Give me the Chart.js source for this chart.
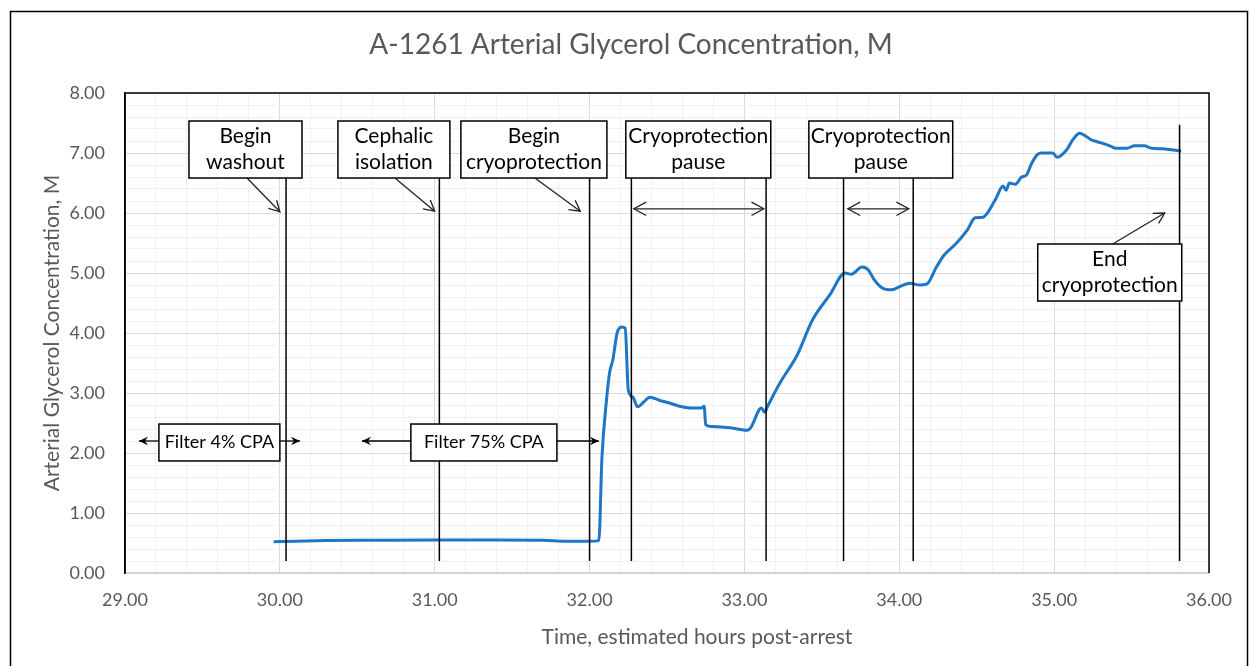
<!DOCTYPE html>
<html>
<head>
<meta charset="utf-8">
<script src="https://cdn.jsdelivr.net/npm/chart.js@4.4.1/dist/chart.umd.min.js"></script>
<style>
  html, body { margin: 0; padding: 0; background: #fff; }
  #wrap { position: relative; width: 1250px; height: 666px; }
</style>
</head>
<body>
<div id="wrap"><canvas id="chart"></canvas></div>
<script>
// Hours post-arrest and arterial glycerol (M).
const hours = [
  29.96, 30.10, 30.30, 30.60, 31.00, 31.40, 31.70, 31.85, 32.00, 32.06,
  32.08, 32.11, 32.13, 32.15, 32.18, 32.21, 32.23, 32.25, 32.28, 32.31,
  32.35, 32.39, 32.45, 32.52, 32.58, 32.65, 32.72, 32.74, 32.75, 32.79,
  32.91, 33.02, 33.04, 33.11, 33.13, 33.15, 33.23, 33.34, 33.44, 33.55,
  33.65, 33.69, 33.76, 33.80, 33.84, 33.89, 33.95, 34.00, 34.07, 34.13,
  34.18, 34.24, 34.29, 34.37, 34.44, 34.49, 34.54, 34.62, 34.67, 34.69,
  34.71, 34.75, 34.79, 34.82, 34.855, 34.89, 34.92, 34.99, 35.02, 35.08,
  35.12, 35.165, 35.21, 35.24, 35.29, 35.36, 35.40, 35.47, 35.52, 35.58,
  35.63, 35.70, 35.77, 35.82
];
const glycerol = [
  0.52, 0.53, 0.54, 0.545, 0.55, 0.55, 0.545, 0.53, 0.53, 0.54,
  1.93, 2.90, 3.35, 3.55, 4.02, 4.10, 4.08, 3.05, 2.93, 2.77,
  2.85, 2.93, 2.88, 2.83, 2.78, 2.75, 2.75, 2.78, 2.47, 2.44,
  2.42, 2.38, 2.42, 2.75, 2.68, 2.78, 3.17, 3.63, 4.22, 4.63,
  5.00, 4.98, 5.10, 5.05, 4.88, 4.75, 4.72, 4.77, 4.83, 4.80,
  4.82, 5.10, 5.30, 5.50, 5.72, 5.92, 5.93, 6.22, 6.45, 6.38,
  6.50, 6.48, 6.60, 6.63, 6.83, 6.97, 7.00, 7.00, 6.93, 7.05,
  7.22, 7.33, 7.27, 7.22, 7.18, 7.12, 7.08, 7.08, 7.12, 7.12,
  7.08, 7.07, 7.05, 7.03
];

// Event markers (vertical lines), in hours, with the concentration they reach up to.
const markerHours = [30.04, 31.03, 32.00, 32.27, 33.14, 33.64, 34.09, 35.81];
const markerTops  = [6.58, 6.58, 6.58, 6.58, 6.58, 6.58, 6.58, 7.47];
const markerBottom = 0.2;

// Callout boxes, placed in data units: box = [t0, t1, vTop, vBottom].
const notes = [
  { text: ["Begin", "washout"],            box: [29.413, 30.143, 7.533, 6.583], arrow: [29.788, 6.583, 30.00, 6.02] },
  { text: ["Cephalic", "isolation"],       box: [30.375, 31.098, 7.533, 6.583], arrow: [30.743, 6.583, 31.00, 6.03] },
  { text: ["Begin", "cryoprotection"],     box: [31.169, 32.112, 7.533, 6.583], arrow: [31.647, 6.583, 31.94, 6.03] },
  { text: ["Cryoprotection", "pause"],     box: [32.234, 33.170, 7.533, 6.583], both: [32.286, 33.125, 6.07] },
  { text: ["Cryoprotection", "pause"],     box: [33.416, 34.345, 7.533, 6.583], both: [33.668, 34.061, 6.07] },
  { text: ["End", "cryoprotection"],       box: [34.894, 35.824, 5.483, 4.533], arrow: [35.378, 5.483, 35.714, 6.00] },
  { text: ["Filter 4% CPA"],  box: [29.219, 30.000, 2.483, 1.867], span: [29.090, 30.130, 2.2], small: true },
  { text: ["Filter 75% CPA"], box: [30.846, 31.789, 2.483, 1.867], span: [30.530, 32.060, 2.2], small: true }
];

const TITLE = 'A-1261 Arterial Glycerol Concentration, M';
const X_TITLE = 'Time, estimated hours post-arrest';
const Y_TITLE = 'Arterial Glycerol Concentration, M';

const GREY = '#595959';
const FONT = 'Lato, "Open Sans", sans-serif';

function isWhole(v) { return Math.abs(v - Math.round(v)) < 1e-6; }

function openHead(ctx, x1, y1, x2, y2, len) {
  const a = Math.atan2(y2 - y1, x2 - x1);
  ctx.beginPath();
  ctx.moveTo(x2 - len * Math.cos(a - 0.5), y2 - len * Math.sin(a - 0.5));
  ctx.lineTo(x2, y2);
  ctx.lineTo(x2 - len * Math.cos(a + 0.5), y2 - len * Math.sin(a + 0.5));
  ctx.stroke();
}

function solidHead(ctx, x1, y1, x2, y2) {
  const a = Math.atan2(y2 - y1, x2 - x1);
  ctx.beginPath();
  ctx.moveTo(x2, y2);
  ctx.lineTo(x2 - 10 * Math.cos(a - 0.45), y2 - 10 * Math.sin(a - 0.45));
  ctx.lineTo(x2 - 6 * Math.cos(a), y2 - 6 * Math.sin(a));
  ctx.lineTo(x2 - 10 * Math.cos(a + 0.45), y2 - 10 * Math.sin(a + 0.45));
  ctx.closePath();
  ctx.fill();
}

function line(ctx, x1, y1, x2, y2) {
  ctx.beginPath();
  ctx.moveTo(x1, y1);
  ctx.lineTo(x2, y2);
  ctx.stroke();
}

// Background, outer frame, plot border, chart title and the moved x-axis title.
const framePlugin = {
  id: 'frame',
  beforeDraw(chart) {
    const ctx = chart.ctx;
    ctx.save();
    ctx.fillStyle = '#fff';
    ctx.fillRect(0, 0, chart.width, chart.height);
    ctx.restore();
  },
  beforeDatasetsDraw(chart) {
    const { ctx, chartArea: a } = chart;
    ctx.save();
    ctx.strokeStyle = '#000';
    ctx.lineWidth = 1.5;
    ctx.beginPath();
    ctx.moveTo(a.left, a.bottom);
    ctx.lineTo(a.left, a.top);
    ctx.lineTo(a.right, a.top);
    ctx.lineTo(a.right, a.bottom);
    ctx.stroke();
    ctx.restore();
  },
  afterDraw(chart) {
    const { ctx, chartArea: a } = chart;
    ctx.save();
    ctx.strokeStyle = '#000';
    ctx.lineWidth = 1.5;
    ctx.strokeRect(10.5, 11.5, 1237, 700);
    ctx.fillStyle = GREY;
    ctx.textAlign = 'center';
    ctx.textBaseline = 'middle';
    ctx.font = '28px ' + FONT;
    ctx.fillText(TITLE, chart.width / 2 + 6, 45);
    ctx.font = '21px ' + FONT;
    ctx.fillText(X_TITLE, (a.left + a.right) / 2 + 30, 637);
    ctx.restore();
  }
};

// Callout boxes and arrows.
const notesPlugin = {
  id: 'notes',
  afterDatasetsDraw(chart) {
    const { ctx, scales: { x, y } } = chart;
    ctx.save();
    ctx.strokeStyle = '#000';
    ctx.fillStyle = '#000';
    for (const n of notes) {
      const l = x.getPixelForValue(n.box[0]), r = x.getPixelForValue(n.box[1]);
      const t = y.getPixelForValue(n.box[2]), b = y.getPixelForValue(n.box[3]);
      ctx.fillStyle = '#fff';
      ctx.fillRect(l, t, r - l, b - t);
      ctx.strokeStyle = '#000';
      ctx.lineWidth = 1.5;
      ctx.strokeRect(l, t, r - l, b - t);
      ctx.fillStyle = '#000';
      ctx.font = (n.small ? '18px ' : '21px ') + FONT;
      ctx.textAlign = 'center';
      ctx.textBaseline = 'middle';
      const cx = (l + r) / 2, cy = (t + b) / 2;
      if (n.text.length === 1) {
        ctx.fillText(n.text[0], cx, cy);
      } else {
        ctx.fillText(n.text[0], cx, cy - 13);
        ctx.fillText(n.text[1], cx, cy + 13);
      }
      ctx.lineWidth = 1.3;
      ctx.strokeStyle = '#222';
      if (n.arrow) {
        const x1 = x.getPixelForValue(n.arrow[0]), y1 = y.getPixelForValue(n.arrow[1]);
        const x2 = x.getPixelForValue(n.arrow[2]), y2 = y.getPixelForValue(n.arrow[3]);
        line(ctx, x1, y1, x2, y2);
        openHead(ctx, x1, y1, x2, y2, 12);
      }
      if (n.both) {
        const x1 = x.getPixelForValue(n.both[0]), x2 = x.getPixelForValue(n.both[1]);
        const yy = y.getPixelForValue(n.both[2]);
        line(ctx, x1, yy, x2, yy);
        openHead(ctx, x2, yy, x1, yy, 14);
        openHead(ctx, x1, yy, x2, yy, 14);
      }
      if (n.span) {
        const yy = y.getPixelForValue(n.span[2]);
        const xa = x.getPixelForValue(n.span[0]), xb = x.getPixelForValue(n.span[1]);
        ctx.strokeStyle = '#000';
        line(ctx, l, yy, xa, yy);
        solidHead(ctx, l, yy, xa, yy);
        line(ctx, r, yy, xb, yy);
        solidHead(ctx, r, yy, xb, yy);
      }
    }
    ctx.restore();
  }
};

const datasets = [{
  label: 'Arterial glycerol',
  data: hours.map((h, i) => ({ x: h, y: glycerol[i] })),
  borderColor: '#1e76c6',
  borderWidth: 3,
  pointRadius: 0,
  cubicInterpolationMode: 'monotone',
  order: 2
}];
markerHours.forEach((h, i) => {
  datasets.push({
    label: 'marker ' + i,
    data: [{ x: h, y: markerBottom }, { x: h, y: markerTops[i] }],
    borderColor: '#000',
    borderWidth: 1.5,
    pointRadius: 0,
    order: 1
  });
});

new Chart(document.getElementById('chart'), {
  type: 'line',
  data: { datasets },
  options: {
    responsive: true,
    maintainAspectRatio: false,
    animation: false,
    layout: { padding: { left: 0, right: 41, top: 93, bottom: 0 } },
    plugins: {
      legend: { display: false },
      tooltip: { enabled: false },
      title: { display: false }
    },
    scales: {
      x: {
        type: 'linear',
        min: 29, max: 36,
        afterFit(scale) { scale.height = 93; },
        ticks: {
          stepSize: 0.2,
          autoSkip: false,
          maxRotation: 0,
          padding: 16,
          color: GREY,
          font: { family: FONT, size: 18 },
          callback: v => isWhole(v) ? v.toFixed(2) : ''
        },
        grid: {
          drawTicks: false,
          color: ctx => isWhole(ctx.tick.value) ? '#d9d9d9' : '#f0f0f0'
        },
        border: { color: '#d0d0d0', width: 1.5 }
      },
      y: {
        min: 0, max: 8,
        afterFit(scale) { scale.width = 125; },
        ticks: {
          stepSize: 0.2,
          autoSkip: false,
          padding: 20,
          color: GREY,
          font: { family: FONT, size: 18 },
          callback: v => isWhole(v) ? v.toFixed(2) : ''
        },
        grid: {
          drawTicks: false,
          color: ctx => isWhole(ctx.tick.value) ? '#d9d9d9' : '#f0f0f0'
        },
        border: { color: '#000', width: 1.5 },
        title: {
          display: true,
          text: Y_TITLE,
          color: GREY,
          font: { family: FONT, size: 21 },
          padding: { top: 40, bottom: 0 }
        }
      }
    }
  },
  plugins: [framePlugin, notesPlugin]
});
</script>
</body>
</html>
